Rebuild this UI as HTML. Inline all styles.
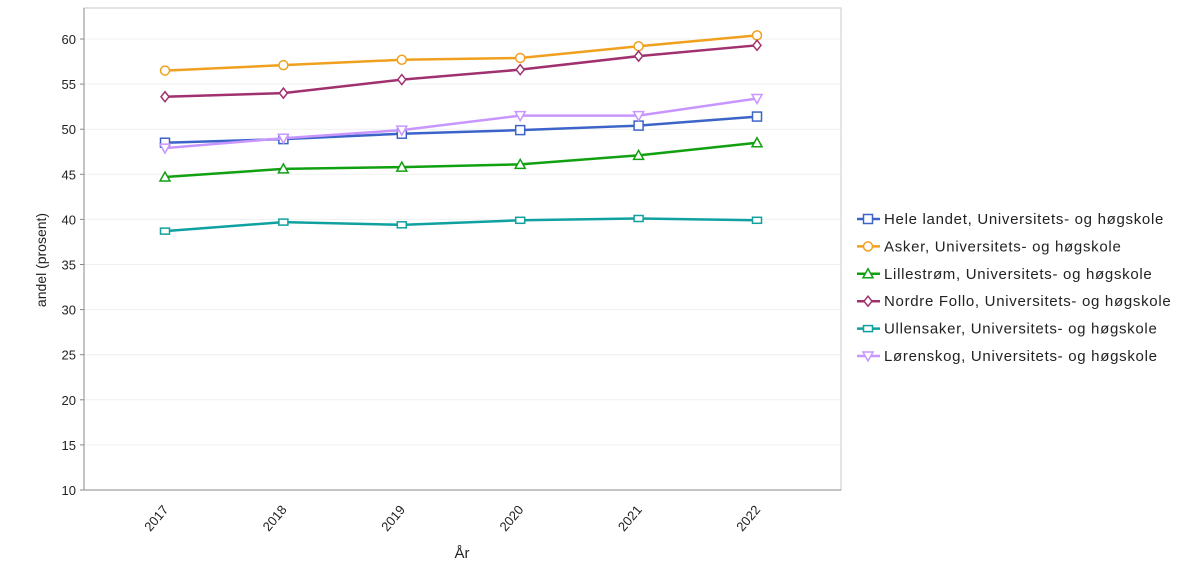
<!DOCTYPE html>
<html><head><meta charset="utf-8"><style>
body{margin:0;background:#fff;font-family:"Liberation Sans",Arial,sans-serif;}
svg text{font-family:"Liberation Sans",Arial,sans-serif;fill:#222;}
</style></head><body>
<svg id="chart" width="1200" height="574" viewBox="0 0 1200 574" xmlns="http://www.w3.org/2000/svg"></svg>
<script>
const categories=["2017","2018","2019","2020","2021","2022"];
const yTicks=[10,15,20,25,30,35,40,45,50,55,60];
const seriesNames=["Hele landet, Universitets- og høgskole","Asker, Universitets- og høgskole","Lillestrøm, Universitets- og høgskole","Nordre Follo, Universitets- og høgskole","Ullensaker, Universitets- og høgskole","Lørenskog, Universitets- og høgskole"];
const heleValues=[48.5,48.9,49.5,49.9,50.4,51.4];
const askerValues=[56.5,57.1,57.7,57.9,59.2,60.4];
const lillestromValues=[44.7,45.6,45.8,46.1,47.1,48.5];
const nordreValues=[53.6,54.0,55.5,56.6,58.1,59.3];
const ullensakerValues=[38.7,39.7,39.4,39.9,40.1,39.9];
const lorenskogValues=[47.9,49.0,49.9,51.5,51.5,53.4];
const seriesValues=[heleValues,askerValues,lillestromValues,nordreValues,ullensakerValues,lorenskogValues];
const colors=["#3c64c8","#f0a01e","#10a010","#a0306e","#10a0a0","#c896ff"];
const markers=["square","circle","triangle","diamond","rect","tri-down"];
const slugs=["hele-landet","asker","lillestrom","nordre-follo","ullensaker","lorenskog"];

const svg=document.getElementById('chart');
const NS="http://www.w3.org/2000/svg";
const L=84,R=841,T=8,B=490,yMin=10,yMax=60,yTop=39;
function yS(v){return B-(v-yMin)*(B-yTop)/(yMax-yMin);}
function xS(i){return 165+i*(757-165)/(categories.length-1);}
function mk(tag,attrs,parent){const e=document.createElementNS(NS,tag);for(const k in attrs)e.setAttribute(k,attrs[k]);(parent||svg).appendChild(e);return e;}

const frame=mk('rect',{x:L,y:T,width:R-L,height:B-T,fill:'#fff',stroke:'#c8c8c8'});


yTicks.forEach(t=>{
  const y=yS(t);
  if(t>yMin){const g=mk('line',{x1:L,x2:R,y1:y,y2:y,stroke:'#f0f0f0'});
  
  }
  mk('line',{x1:L-4,x2:L,y1:y,y2:y,stroke:'#888'});
  const tx=mk('text',{x:L-8,y:y+5,'text-anchor':'end','font-size':13});
  tx.textContent=t;
  
  
});
mk('line',{x1:L,x2:L,y1:T,y2:B,stroke:'#888'});
mk('line',{x1:L,x2:R,y1:B,y2:B,stroke:'#888'});
categories.forEach((c,i)=>{
  const x=xS(i);
  const tx=mk('text',{x:x+4,y:510,'text-anchor':'end','font-size':13,transform:`rotate(-50 ${x+4} 510)`});
  tx.textContent=c;
  
  
});
const xt=mk('text',{x:462,y:558,'text-anchor':'middle','font-size':15});
xt.textContent='År';


const yt=mk('text',{x:46,y:260,'text-anchor':'middle','font-size':14,transform:'rotate(-90 46 260)'});
yt.textContent='andel (prosent)';



function marker(type,x,y,color,parent){
  let e;
  if(type==='square')e=mk('rect',{x:x-4.5,y:y-4.5,width:9,height:9},parent);
  else if(type==='rect')e=mk('rect',{x:x-4.5,y:y-3,width:9,height:6},parent);
  else if(type==='circle')e=mk('circle',{cx:x,cy:y,r:4.5},parent);
  else if(type==='triangle')e=mk('polygon',{points:`${x},${y-5} ${x+5},${y+4} ${x-5},${y+4}`},parent);
  else if(type==='tri-down')e=mk('polygon',{points:`${x-5},${y-4} ${x+5},${y-4} ${x},${y+5}`},parent);
  else e=mk('polygon',{points:`${x},${y-5} ${x+4},${y} ${x},${y+5} ${x-4},${y}`},parent);
  e.setAttribute('fill','#fff');e.setAttribute('stroke',color);e.setAttribute('stroke-width','1.5');
  return e;
}
seriesValues.forEach((vals,s)=>{
  const g=mk('g',{});
  
  
  const pts=vals.map((v,i)=>xS(i)+','+yS(v)).join(' ');
  const pl=mk('polyline',{points:pts,fill:'none',stroke:colors[s],'stroke-width':2.5},g);
  
  
  vals.forEach((v,i)=>{
    const m=marker(markers[s],xS(i),yS(v),colors[s],g);
    
    
  });
  const ly=219+s*27.4;
  const lg=mk('g',{});
  
  
  mk('line',{x1:857,x2:880,y1:ly,y2:ly,stroke:colors[s],'stroke-width':2.5},lg);
  marker(markers[s],868,ly,colors[s],lg);
  const t=mk('text',{x:884,y:ly+5,'font-size':15,'letter-spacing':0.7},lg);
  t.textContent=seriesNames[s];
});
</script>
</body></html>
